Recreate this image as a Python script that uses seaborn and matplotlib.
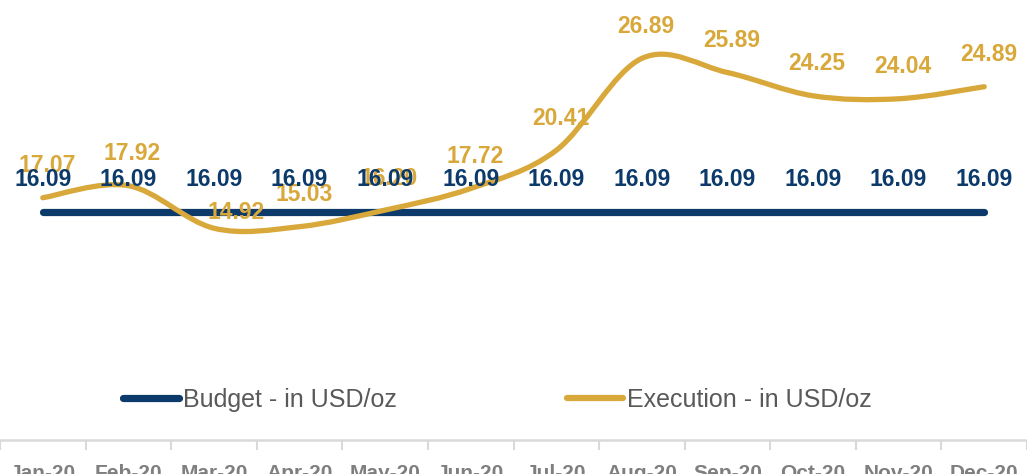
import numpy as np
import matplotlib
matplotlib.use("Agg")
import matplotlib.pyplot as plt
from matplotlib.path import Path
from matplotlib.patches import PathPatch
from matplotlib.lines import Line2D
import pandas as pd
import seaborn as sns

months = ["Jan-20", "Feb-20", "Mar-20", "Apr-20", "May-20", "Jun-20",
          "Jul-20", "Aug-20", "Sep-20", "Oct-20", "Nov-20", "Dec-20"]
budget = [16.09] * 12
execution = [17.07, 17.92, 14.92, 15.03, 16.20, 17.72,
             20.41, 26.89, 25.89, 24.25, 24.04, 24.89]

NAVY = "#0B3A6B"
GOLD = "#D9A83B"
GREY = "#595959"

sns.set_style("white")
plt.rcParams["font.family"] = ["Liberation Sans", "DejaVu Sans"]

fig = plt.figure(figsize=(10.27, 4.74), dpi=100)
ax = fig.add_axes([0, (474 - 440) / 474, 1, 440 / 474])

x = np.arange(len(months))
df = pd.DataFrame({"x": x, "budget": budget, "execution": execution})

# budget line
sns.lineplot(data=df, x="x", y="budget", ax=ax, color=NAVY, lw=5.2,
             solid_capstyle="round", legend=False)

# execution: smooth bezier through the points (excel-like smoothing)
ex = df["execution"].to_numpy()
verts = [(x[0], ex[0])]
codes = [Path.MOVETO]
for i in range(len(x) - 1):
    p0 = (x[max(i - 1, 0)], ex[max(i - 1, 0)])
    p1 = (x[i], ex[i])
    p2 = (x[i + 1], ex[i + 1])
    p3 = (x[min(i + 2, len(x) - 1)], ex[min(i + 2, len(x) - 1)])
    c1 = (p1[0] + (p2[0] - p0[0]) / 6, p1[1] + (p2[1] - p0[1]) / 6)
    c2 = (p2[0] - (p3[0] - p1[0]) / 6, p2[1] - (p3[1] - p1[1]) / 6)
    verts += [c1, c2, p2]
    codes += [Path.CURVE4] * 3
ax.add_patch(PathPatch(Path(verts, codes), facecolor="none", edgecolor=GOLD,
                       lw=3.8, capstyle="round", zorder=3))

# data labels (Mar label sits closer to the line in the original)
label_offsets = {2: (16, 11)}
for i, (xi, v) in enumerate(zip(x, execution)):
    ax.annotate(f"{v:.2f}", (xi, v), xytext=label_offsets.get(i, (3, 23)),
                textcoords="offset points", ha="center", va="center",
                fontsize=16.5, color=GOLD, fontweight="bold", zorder=4)
for xi, v in zip(x, budget):
    ax.annotate(f"{v:.2f}", (xi, v), xytext=(0, 23), textcoords="offset points",
                ha="center", va="center", fontsize=16.5, color=NAVY,
                fontweight="bold", zorder=5)

ax.set_xlim(-0.486, 11.39)
ax.set_ylim(0, 31)
ax.set_yticks([])
ax.set_xlabel("")
ax.set_ylabel("")

ax.set_xticks(np.arange(-0.5, 12, 1))
ax.set_xticklabels([])
ax.set_xticks(x, minor=True)
ax.set_xticklabels(months, minor=True)
ax.tick_params(axis="x", which="major", length=7, width=1.5, color="#D9D9D9",
               direction="out", bottom=True)
ax.tick_params(axis="x", which="minor", length=0, pad=17, labelsize=15,
               labelcolor="#7F7F7F")
for lab in ax.get_xticklabels(minor=True):
    lab.set_fontweight("bold")

for side in ["left", "right", "top"]:
    ax.spines[side].set_visible(False)
ax.spines["bottom"].set_color("#D9D9D9")
ax.spines["bottom"].set_linewidth(1.8)

handles = [Line2D([], [], color=NAVY, lw=5.2, solid_capstyle="round"),
           Line2D([], [], color=GOLD, lw=4.5, solid_capstyle="round")]
fig.legend(handles, ["Budget - in USD/oz", "Execution - in USD/oz"],
           loc="center", bbox_to_anchor=(497 / 1027, 1 - 400 / 474), ncol=2,
           frameon=False, fontsize=18, handlelength=2.25, handletextpad=0.15,
           columnspacing=6.8, labelcolor=GREY)

fig.savefig("out.png", dpi=100)
